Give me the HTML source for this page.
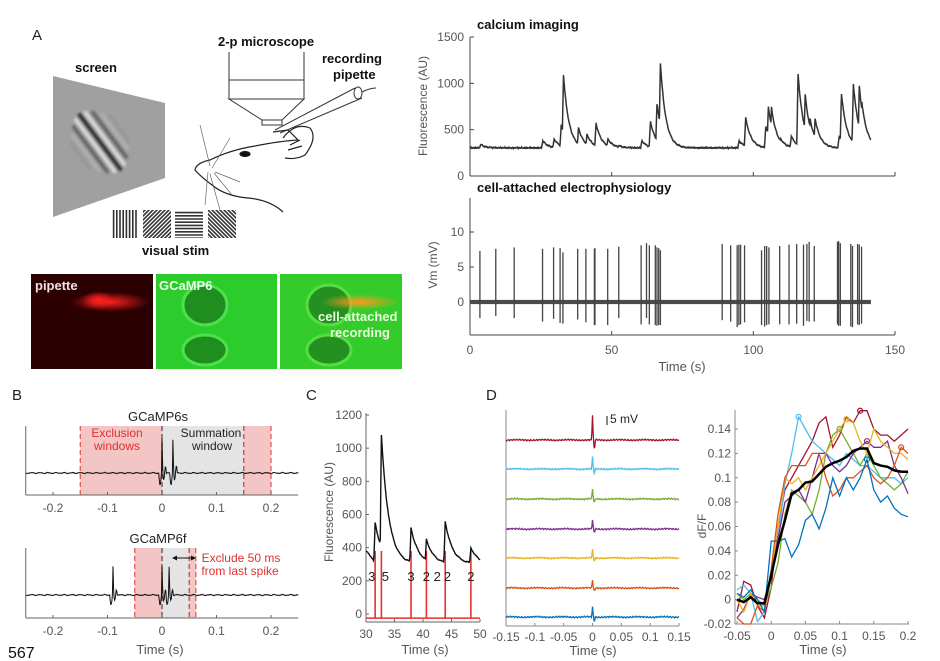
<!DOCTYPE html>
<html><head><meta charset="utf-8">
<style>
html,body{margin:0;padding:0;background:#fff;}
svg{display:block;font-family:"Liberation Sans",sans-serif;}
.tk{font-size:12px;fill:#555;}
.ttl{font-size:13px;font-weight:bold;fill:#111;}
</style></head>
<body>
<svg id="fig" width="940" height="661" viewBox="0 0 940 661" xmlns="http://www.w3.org/2000/svg">
<defs>
<clipPath id="scrclip"><polygon points="53,76 165,103 165,178 53,217"/></clipPath>
<radialGradient id="blobR" cx="0.5" cy="0.5" r="0.5"><stop offset="0" stop-color="#ff2020"/><stop offset="1" stop-color="#ff2020" stop-opacity="0"/></radialGradient>
<radialGradient id="blobO" cx="0.5" cy="0.5" r="0.5"><stop offset="0" stop-color="#ff9a20"/><stop offset="1" stop-color="#ff9a20" stop-opacity="0"/></radialGradient>
</defs>

<!-- Panel A drawing -->
<text x="32" y="40" font-size="15" fill="#222">A</text>
<text x="75" y="72" class="ttl">screen</text>
<g>
<polygon points="53,76 165,103 165,178 53,217" fill="#a0a0a0"/>
<g clip-path="url(#scrclip)" id="gaborStripes"></g>
</g>
<text x="218" y="46" class="ttl">2-p microscope</text>
<g fill="none" stroke="#333" stroke-width="1">
<line x1="229" y1="52" x2="229" y2="80"/><line x1="304" y1="52" x2="304" y2="80"/>
<rect x="229" y="80" width="75" height="19"/>
<polygon points="229,99 304,99 282,120 262,120"/>
<rect x="262" y="120" width="20" height="5"/>
</g>
<text x="322" y="63" class="ttl">recording</text>
<text x="333" y="79" class="ttl">pipette</text>
<g fill="none" stroke="#333" stroke-width="1">
<line x1="275" y1="130" x2="355" y2="88"/><line x1="280" y1="133" x2="362" y2="98"/>
<ellipse cx="358" cy="93" rx="4" ry="6"/><path d="M362,92 Q370,88 376,88"/>
</g>
<g fill="none" stroke="#222" stroke-width="1.2">
<path d="M273,132 L288,130 L298,140 Q280,141 255,146 Q230,150 210,160 Q196,163 195,170 Q200,176 212,185 Q225,196 248,198 Q270,200 283,212"/>
<path d="M283,138 Q295,122 310,128 Q318,138 305,155 Q296,160 285,158"/>
<path d="M290,145 L300,140 M288,150 L302,146"/>
<ellipse cx="245" cy="154" rx="5" ry="2.5" fill="#111"/>
<path d="M210,166 L200,125 M212,168 L230,138 M215,172 L240,182 M214,173 L232,195 M210,174 L220,210 M208,172 L205,205" stroke="#666" stroke-width="0.7"/>
</g>
<g id="stims"></g>
<text x="142" y="255" class="ttl">visual stim</text>

<g>
<rect x="31" y="274" width="122" height="95" fill="#2a0000"/>
<ellipse cx="110" cy="302" rx="40" ry="10" fill="url(#blobR)"/>
<ellipse cx="98" cy="300" rx="16" ry="9" fill="url(#blobR)"/>
<text x="35" y="290" font-size="13" font-weight="bold" fill="#f0e0e0">pipette</text>
</g>
<g>
<rect x="156" y="274" width="121" height="95" fill="#2ccc2c"/>
<ellipse cx="205" cy="305" rx="22" ry="20" fill="#1f8e1f" stroke="#4de04d" stroke-width="3"/>
<ellipse cx="205" cy="350" rx="22" ry="15" fill="#1f8e1f" stroke="#4de04d" stroke-width="3"/>
<text x="159" y="290" font-size="13" font-weight="bold" fill="#e8ffe8">GCaMP6</text>
</g>
<g>
<rect x="280" y="274" width="122" height="95" fill="#33cc2a"/>
<ellipse cx="329" cy="305" rx="22" ry="20" fill="#239020" stroke="#55dd44" stroke-width="3"/>
<ellipse cx="329" cy="350" rx="22" ry="15" fill="#239020" stroke="#55dd44" stroke-width="3"/>
<ellipse cx="360" cy="302" rx="40" ry="8" fill="url(#blobO)"/>
<text x="318" y="321" font-size="13" font-weight="bold" fill="#eafbe0">cell-attached</text>
<text x="330" y="337" font-size="13" font-weight="bold" fill="#eafbe0">recording</text>
</g>

<g id="charts"></g>

<text x="12" y="400" font-size="15" fill="#222">B</text>
<text x="306" y="400" font-size="15" fill="#222">C</text>
<text x="486" y="400" font-size="15" fill="#222">D</text>
<text x="8" y="658" font-size="16" fill="#111">567</text>
</svg>

<script>
// ---------- DATA ----------
const caPeakTimes = [3.8,25.7,29.7,32.2,33.0,38.3,41.3,44.5,48.7,52.5,60.7,63.7,66.0,67.2,95.0,97.3,104.4,105.3,106.4,109.7,113.4,115.8,118.3,120.0,121.8,130.3,131.1,135.3,137.4,138.3];
const caPeakValues = [340,380,400,550,1090,520,450,570,400,330,380,590,780,1220,380,630,540,750,740,400,430,1100,880,620,620,420,890,1000,970,800];
const caBaseline = 300;
const caTicksY = [0,500,1000,1500];
const timeTicksA = [0,50,100,150];
const spikeTimes = [3.5,9.1,15.6,25.6,29.5,31.8,32.8,38.0,40.9,43.9,44.1,48.6,52.5,60.4,62.3,63.3,65.4,66.0,66.6,67.2,89.0,92.0,94.3,94.9,95.5,96.9,102.9,104.0,104.7,105.5,109.3,112.6,115.3,117.7,118.9,119.7,121.5,129.7,130.1,130.7,134.4,135.0,136.8,137.4,138.2];
const spikePeaks = [7.3,7.6,7.8,7.6,7.8,7.7,7.1,7.6,7.6,7.6,7.7,7.6,7.9,8.1,8.4,8.1,8.1,7.8,7.7,7.4,8.3,8.1,8.1,8.2,8.2,8.1,7.4,8.0,8.0,7.8,8.0,8.2,8.3,8.2,8.3,8.6,8.0,8.6,8.7,8.4,8.3,8.0,8.3,8.2,7.9];
const spikeTroughs = [-2.3,-2.0,-2.3,-2.8,-2.4,-3.0,-3.1,-2.5,-2.9,-3.3,-3.3,-3.3,-2.3,-3.2,-2.3,-3.2,-3.3,-3.4,-3.3,-3.3,-2.6,-2.8,-3.6,-3.3,-3.2,-2.9,-3.3,-3.5,-3.3,-3.2,-3.2,-3.2,-3.1,-3.4,-2.7,-2.8,-2.8,-3.2,-3.4,-3.4,-3.5,-3.6,-3.2,-3.3,-3.1];
const vmTicks = [0,5,10];
const bTicks = [-0.2,-0.1,0,0.1,0.2];
const bSpikes6s = [0,0.02];
const bSpikes6f = [-0.09,0,0.013];
const cPeakTimes = [31.6,32.7,37.9,40.6,43.9,48.4];
const cPeakValues = [550,1080,520,450,560,400];
const cCounts = ["3","5","3","2","2","2","2"];
const cCountTimes = [31.0,33.4,37.9,40.6,42.5,44.3,48.4];
const cTicksX = [30,35,40,45,50];
const cTicksY = [0,200,400,600,800,1000,1200];
const dTicksLeft = [-0.15,-0.1,-0.05,0,0.05,0.1,0.15];
const dSpikeAmps = [25,12,10,9,8,8,10];
const dTime = [-0.05,-0.04,-0.03,-0.02,-0.01,0,0.01,0.02,0.03,0.04,0.05,0.06,0.07,0.08,0.09,0.1,0.11,0.12,0.13,0.14,0.15,0.16,0.17,0.18,0.19,0.2];
const dRed    = [-0.01,0.015,0.012,-0.005,-0.015,0.01,0.06,0.09,0.1,0.11,0.12,0.13,0.145,0.15,0.125,0.135,0.15,0.145,0.155,0.155,0.14,0.135,0.135,0.13,0.135,0.14];
const dLBlue  = [0.008,0.012,0.005,-0.018,-0.01,0.02,0.05,0.095,0.12,0.15,0.14,0.13,0.125,0.12,0.115,0.11,0.12,0.115,0.11,0.11,0.105,0.1,0.1,0.1,0.095,0.1];
const dGreen  = [0.005,0,0.005,0,-0.005,0.01,0.03,0.07,0.09,0.085,0.08,0.07,0.09,0.12,0.135,0.14,0.13,0.12,0.11,0.12,0.11,0.1,0.095,0.09,0.095,0.105];
const dPurple = [-0.015,-0.008,0.005,0.002,0,0.02,0.05,0.08,0.085,0.09,0.08,0.1,0.12,0.12,0.11,0.105,0.11,0.12,0.125,0.13,0.125,0.125,0.13,0.11,0.1,0.087];
const dYellow = [0,-0.01,0.005,-0.005,-0.005,0.02,0.06,0.1,0.095,0.1,0.09,0.1,0.11,0.12,0.13,0.14,0.148,0.145,0.13,0.12,0.14,0.13,0.125,0.12,0.12,0.115];
const dOrange = [-0.015,-0.02,-0.02,-0.005,-0.01,0.025,0.07,0.1,0.11,0.11,0.11,0.12,0.12,0.1,0.085,0.09,0.1,0.1,0.105,0.11,0.1,0.095,0.1,0.11,0.125,0.12];
const dBlue   = [0.005,0.002,0.008,0,-0.01,0.048,0.048,0.05,0.035,0.045,0.065,0.07,0.058,0.075,0.1,0.085,0.1,0.09,0.1,0.115,0.09,0.08,0.085,0.075,0.07,0.068];
const dMean   = [0,-0.002,0.002,-0.003,-0.003,0.02,0.045,0.065,0.087,0.09,0.096,0.097,0.103,0.109,0.112,0.114,0.117,0.122,0.124,0.124,0.112,0.11,0.109,0.106,0.105,0.105];
const dTicksRX = [-0.05,0,0.05,0.1,0.15,0.2];
const dTicksRY = [-0.02,0,0.02,0.04,0.06,0.08,0.1,0.12,0.14];

// ---------- HELPERS ----------
const NS = "http://www.w3.org/2000/svg";
const root = document.getElementById('charts');
function mk(tag, attrs, parent){const e=document.createElementNS(NS,tag);for(const k in attrs)e.setAttribute(k,attrs[k]);(parent||root).appendChild(e);return e;}
function lin(d0,d1,r0,r1){return v=>r0+(v-d0)*(r1-r0)/(d1-d0);}
function noise(i){return Math.sin(i*12.9898)*0.5+Math.sin(i*4.1414+1.3)*0.3+Math.sin(i*0.77)*0.2;}
function fmt(v){return String(Math.round(v*1000)/1000);}

// Gabor & stimuli
(function(){
 const g=document.getElementById('gaborStripes');
 const cx0=100, cy0=142;
 // stripe normal direction (perpendicular to "\" bars)
 const nx=0.8, ny=-0.6;
 for(let k=-4;k<=4;k++){
  const cx=cx0+k*6*nx, cy=cy0+k*6*ny;
  const op=0.75*Math.exp(-(k*k)/6);
  const len=34*Math.exp(-(k*k)/20);
  // bar direction along (0.6,0.8)
  mk('line',{x1:cx-0.6*len,y1:cy-0.8*len,x2:cx+0.6*len,y2:cy+0.8*len,stroke:(k%2===0)?'#000':'#fff','stroke-width':3.5,'stroke-opacity':op,'stroke-linecap':'round',style:'filter:blur(1.2px)'},g);
 }
 const s=document.getElementById('stims');
 const xs=[110,143,175,208];
 xs.forEach((x0,j)=>{
  const grp=mk('g',{},s);
  const cp=mk('clipPath',{id:'sc'+j},grp);
  mk('rect',{x:x0,y:210,width:28,height:28},cp);
  const gg=mk('g',{'clip-path':'url(#sc'+j+')'},grp);
  mk('rect',{x:x0,y:210,width:28,height:28,fill:'#fff'},gg);
  for(let k=-12;k<=12;k++){
   let a;
   if(j===0)a={x1:x0+2+k*3.2+40,y1:205,x2:x0+2+k*3.2+40,y2:245};
   else if(j===2)a={x1:x0-5,y1:211+k*3.2+40,x2:x0+35,y2:211+k*3.2+40};
   else if(j===1)a={x1:x0+k*4,y1:240,x2:x0+k*4+34,y2:206};
   else a={x1:x0+k*4,y1:206,x2:x0+k*4+34,y2:240};
   mk('line',Object.assign(a,{stroke:'#333','stroke-width':1.6}),gg);
  }
 });
})();

// ---------- PANEL A: calcium ----------
(function(){
 const x=lin(0,150,470,895), y=lin(0,1500,176,37);
 const g=mk('g',{});
 
 
 mk('text',{x:477,y:29,class:'ttl'},g).textContent='calcium imaging';
 mk('line',{x1:470,y1:37,x2:470,y2:176,stroke:'#444'},g);
 mk('line',{x1:470,y1:176,x2:895,y2:176,stroke:'#444'},g);
 caTicksY.forEach(v=>{mk('line',{x1:470,y1:y(v),x2:474,y2:y(v),stroke:'#444'},g);
  const t=mk('text',{x:464,y:y(v)+4,'text-anchor':'end',class:'tk'},g);t.textContent=v;});
 timeTicksA.forEach(v=>mk('line',{x1:x(v),y1:176,x2:x(v),y2:172,stroke:'#444'},g));
 const yl=mk('text',{x:0,y:0,class:'tk','text-anchor':'middle',transform:'translate(427,106) rotate(-90)'},g);
 yl.textContent='Fluorescence (AU)';
 let d='';
 for(let i=0;i<=1415;i++){
  const t=i*0.1;
  let v=caBaseline+noise(i)*12;
  caPeakTimes.forEach((tp,j)=>{
   const dt=t-tp; let k=0;
   if(dt>=-0.5&&dt<0)k=(dt+0.5)/0.5; else if(dt>=0)k=Math.exp(-dt/1.9);
   v=Math.max(v,caBaseline+(caPeakValues[j]-caBaseline)*k+noise(i+7)*8);
  });
  d+=(i?'L':'M')+x(t).toFixed(1)+','+y(v).toFixed(1);
 }
 const p=mk('path',{d:d,fill:'none',stroke:'#333','stroke-width':1.5},g);
 
 
})();

// ---------- PANEL A: ephys ----------
(function(){
 const x=lin(0,150,470,895), y=lin(0,10,302,232);
 const g=mk('g',{});
 
 
 mk('text',{x:477,y:192,class:'ttl'},g).textContent='cell-attached electrophysiology';
 mk('line',{x1:470,y1:198,x2:470,y2:335,stroke:'#444'},g);
 mk('line',{x1:470,y1:335,x2:895,y2:335,stroke:'#444'},g);
 vmTicks.forEach(v=>{mk('line',{x1:470,y1:y(v),x2:474,y2:y(v),stroke:'#444'},g);
  mk('text',{x:464,y:y(v)+4,'text-anchor':'end',class:'tk'},g).textContent=v;});
 timeTicksA.forEach(v=>{mk('line',{x1:x(v),y1:335,x2:x(v),y2:331,stroke:'#444'},g);
  mk('text',{x:x(v),y:354,'text-anchor':'middle',class:'tk'},g).textContent=v;});
 mk('text',{x:0,y:0,class:'tk','text-anchor':'middle',transform:'translate(437,265) rotate(-90)'},g).textContent='Vm (mV)';
 mk('text',{x:682,y:371,'text-anchor':'middle',class:'tk',style:'font-size:13px'},g).textContent='Time (s)';
 const band=mk('rect',{x:x(0),y:y(0.3),width:x(141.5)-x(0),height:y(-0.3)-y(0.3),fill:'#4a4a4a'},g);
 
 
 spikeTimes.forEach((t,i)=>{
  const l=mk('line',{x1:x(t),y1:y(spikePeaks[i]),x2:x(t),y2:y(spikeTroughs[i]),stroke:'#444','stroke-width':1.3},g);
  
  
 });
})();

// ---------- PANEL B ----------
function panelB(top,bottom,base,title,spikes,amp,regions,labels){
 const x=lin(0,0.1,162,216.5);
 const g=mk('g',{});
 
 
 regions.forEach(r=>{
  const rr=mk('rect',{x:x(r[0]),y:top,width:x(r[1])-x(r[0]),height:bottom-top,fill:r[2]},g);
  
  
 });
 regions.forEach(r=>{[r[0],r[1]].forEach(v=>mk('line',{x1:x(v),y1:top,x2:x(v),y2:bottom,stroke:r[4],'stroke-dasharray':'5,3','stroke-width':1.2},g));});
 mk('line',{x1:x(-0.25),y1:top,x2:x(-0.25),y2:bottom,stroke:'#666'},g);
 mk('line',{x1:x(-0.25),y1:bottom,x2:x(0.25),y2:bottom,stroke:'#666'},g);
 bTicks.forEach(v=>{mk('line',{x1:x(v),y1:bottom,x2:x(v),y2:bottom-3,stroke:'#666'},g);
  mk('text',{x:x(v),y:bottom+17,'text-anchor':'middle',class:'tk'},g).textContent=fmt(v);});
 mk('text',{x:158,y:top-5,'text-anchor':'middle',class:'tk',style:'fill:#222;font-size:13px'},g).textContent=title;
 let d='';
 for(let i=0;i<=500;i++){
  const t=-0.25+i*0.001; let v=noise(i)*0.8;
  spikes.forEach(s=>{const dt=t-s;
   if(dt>=-0.001&&dt<0.0015)v-=amp*(dt<=0?(dt+0.001)/0.001:1-(dt/0.0015));
   if(dt>=-0.006&&dt<-0.001)v+=amp*0.35*Math.sin((dt+0.006)/0.005*Math.PI);
   if(dt>=0.0015&&dt<0.008)v+=amp*0.2*Math.sin((dt-0.0015)/0.0065*Math.PI*2);
  });
  d+=(i?'L':'M')+x(t).toFixed(1)+','+(base+v).toFixed(1);
 }
 mk('path',{d:d,fill:'none',stroke:'#111','stroke-width':1},g);
 labels.forEach(l=>{mk('text',{x:l[0],y:l[1],'text-anchor':'middle',style:'font-size:12px;fill:'+l[3]},g).textContent=l[2];});
 return g;
}
panelB(426,495,473,'GCaMP6s',bSpikes6s,34,
 [[-0.15,0,'#f4c5c5','exclusion-window-pre','#e05050'],[0,0.15,'#e4e4e4','summation-window','#555'],[0.15,0.2,'#f4c5c5','exclusion-window-post','#e05050']],
 [[117,437,'Exclusion','#e03030'],[117,450,'windows','#e03030'],[211,437,'Summation','#222'],[212,450,'window','#222']]);
const gB2=panelB(548,618,595,'GCaMP6f',bSpikes6f,28,
 [[-0.05,0,'#f4c5c5','exclusion-window-pre-6f','#e05050'],[0,0.05,'#e4e4e4','summation-window-6f','#555'],[0.05,0.062,'#f4c5c5','exclusion-window-post-6f','#e05050']],
 [[241,562,'Exclude 50 ms','#e03030'],[240,575,'from last spike','#e03030']]);
mk('text',{x:160,y:654,'text-anchor':'middle',class:'tk',style:'font-size:13px'},gB2).textContent='Time (s)';
mk('line',{x1:174,y1:558,x2:193,y2:558,stroke:'#111'},gB2);
mk('path',{d:'M172,558 L177,555.5 L177,560.5Z M196,558 L191,555.5 L191,560.5Z',fill:'#111'},gB2);

// ---------- PANEL C ----------
(function(){
 const x=lin(30,50,366,480), y=lin(0,1200,614,415);
 const g=mk('g',{});
 
 
 mk('line',{x1:366,y1:413,x2:366,y2:622,stroke:'#666'},g);
 mk('line',{x1:366,y1:622,x2:480,y2:622,stroke:'#666'},g);
 cTicksY.forEach(v=>{mk('line',{x1:366,y1:y(v),x2:369,y2:y(v),stroke:'#666'},g);
  mk('text',{x:362,y:y(v)+4,'text-anchor':'end',class:'tk'},g).textContent=v;});
 cTicksX.forEach(v=>{mk('line',{x1:x(v),y1:622,x2:x(v),y2:619,stroke:'#666'},g);
  mk('text',{x:x(v),y:638,'text-anchor':'middle',class:'tk'},g).textContent=v;});
 mk('text',{x:0,y:0,class:'tk','text-anchor':'middle',transform:'translate(333,512) rotate(-90)'},g).textContent='Fluorescence (AU)';
 mk('text',{x:425,y:654,'text-anchor':'middle',class:'tk',style:'font-size:13px'},g).textContent='Time (s)';
 mk('line',{x1:366,y1:y(-25),x2:480,y2:y(-25),stroke:'#e83030','stroke-width':1.5},g);
 cPeakTimes.forEach(t=>{const l=mk('line',{x1:x(t),y1:y(-25),x2:x(t),y2:y(380),stroke:'#e83030','stroke-width':1.6},g);
  
  });
 let d='';
 for(let i=0;i<=200;i++){
  const t=30+i*0.1; let v=300+Math.max(0,80*(1-(t-30)/2))+noise(i)*6;
  cPeakTimes.forEach((tp,j)=>{const dt=t-tp;let k=0;
   if(dt>=-0.25&&dt<0)k=(dt+0.25)/0.25; else if(dt>=0)k=Math.exp(-dt/1.3);
   v=Math.max(v,300+(cPeakValues[j]-300)*k+noise(i+3)*5);});
  d+=(i?'L':'M')+x(t).toFixed(1)+','+y(v).toFixed(1);
 }
 mk('path',{d:d,fill:'none',stroke:'#111','stroke-width':1.4},g);
 cCounts.forEach((c,i)=>{mk('text',{x:x(cCountTimes[i]),y:y(230)+5,'text-anchor':'middle',style:'font-size:13px;fill:#222'},g).textContent=c;});
})();

// ---------- PANEL D left ----------
const dColors=['#a2142f','#4dbeee','#77ac30','#7e2f8e','#edb120','#d95319','#0072bd'];
const dBases=[440,469,499,529,558,588,617];
(function(){
 const x=lin(-0.15,0.15,506,679);
 const g=mk('g',{});
 
 
 mk('line',{x1:506,y1:410,x2:506,y2:626,stroke:'#888'},g);
 mk('line',{x1:506,y1:626,x2:679,y2:626,stroke:'#888'},g);
 dTicksLeft.forEach(v=>{mk('line',{x1:x(v),y1:626,x2:x(v),y2:623,stroke:'#888'},g);
  mk('text',{x:x(v),y:641,'text-anchor':'middle',class:'tk'},g).textContent=fmt(v);});
 mk('text',{x:593,y:655,'text-anchor':'middle',class:'tk',style:'font-size:13px'},g).textContent='Time (s)';
 mk('line',{x1:607,y1:416,x2:607,y2:425,stroke:'#111'},g);
 mk('text',{x:610,y:423,style:'font-size:12px;fill:#222'},g).textContent='5 mV';
 dBases.forEach((b,j)=>{
  let d='';
  for(let i=0;i<=300;i++){const t=-0.15+i*0.001;let v=noise(i*3+j*50)*1;
   const dt=t; if(Math.abs(dt)<0.0015)v-=dSpikeAmps[j]*(1-Math.abs(dt)/0.0015);
   if(dt>=0.0015&&dt<0.005)v+=dSpikeAmps[j]*0.35*Math.sin((dt-0.0015)/0.0035*Math.PI);
   d+=(i?'L':'M')+x(t).toFixed(1)+','+(b+v).toFixed(1);}
  const p=mk('path',{d:d,fill:'none',stroke:dColors[j],'stroke-width':1.3},g);
  
  
 });
})();

// ---------- PANEL D right ----------
(function(){
 const x=lin(-0.05,0.2,737,908), y=lin(-0.02,0.14,624,429);
 const g=mk('g',{});
 
 
 mk('line',{x1:735,y1:410,x2:735,y2:624,stroke:'#888'},g);
 mk('line',{x1:735,y1:624,x2:909,y2:624,stroke:'#888'},g);
 dTicksRY.forEach(v=>{mk('line',{x1:735,y1:y(v),x2:738,y2:y(v),stroke:'#888'},g);
  mk('text',{x:731,y:y(v)+4,'text-anchor':'end',class:'tk'},g).textContent=fmt(v);});
 dTicksRX.forEach(v=>{mk('line',{x1:x(v),y1:624,x2:x(v),y2:621,stroke:'#888'},g);
  mk('text',{x:x(v),y:640,'text-anchor':'middle',class:'tk'},g).textContent=fmt(v);});
 mk('text',{x:0,y:0,class:'tk','text-anchor':'middle',transform:'translate(706,526) rotate(-90)'},g).textContent='dF/F';
 mk('text',{x:823,y:654,'text-anchor':'middle',class:'tk',style:'font-size:13px'},g).textContent='Time (s)';
 const series=[dRed,dLBlue,dGreen,dPurple,dYellow,dOrange,dBlue];
 series.forEach((s,j)=>{
  const d=s.map((v,i)=>(i?'L':'M')+x(dTime[i]).toFixed(1)+','+y(v).toFixed(1)).join('');
  const p=mk('path',{d:d,fill:'none',stroke:dColors[j],'stroke-width':1.3},g);
  
  
  let mi=0; s.forEach((v,i)=>{if(v>s[mi])mi=i;});
  mk('circle',{cx:x(dTime[mi]),cy:y(s[mi]),r:2.5,fill:'none',stroke:dColors[j],'stroke-width':1.2},g);
 });
 const dm=dMean.map((v,i)=>(i?'L':'M')+x(dTime[i]).toFixed(1)+','+y(v).toFixed(1)).join('');
 const pm=mk('path',{d:dm,fill:'none',stroke:'#000','stroke-width':2.5},g);
 
 
})();
</script>
</body></html>
